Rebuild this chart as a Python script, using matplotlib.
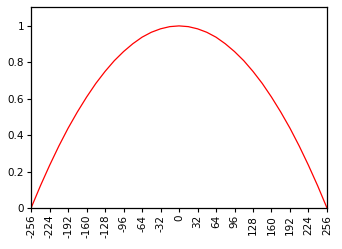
import matplotlib
matplotlib.use("Agg")
import matplotlib.pyplot as plt

# values, every 16 samples
x = [-256, -240, -224, -208, -192, -176, -160, -144, -128, -112, -96, -80, -64, -48, -32, -16,
     0, 16, 32, 48, 64, 80, 96, 112, 128, 144, 160, 176, 192, 208, 224, 240, 256]
y = [0.0, 0.121, 0.234, 0.34, 0.438, 0.527, 0.609, 0.684, 0.75, 0.809, 0.859, 0.902, 0.938, 0.965, 0.984, 0.996,
     1.0, 0.996, 0.984, 0.965, 0.938, 0.902, 0.859, 0.809, 0.75, 0.684, 0.609, 0.527, 0.438, 0.34, 0.234, 0.121, 0.0]
xticks = list(range(-256, 257, 32))
yticks = [0, 0.2, 0.4, 0.6, 0.8, 1]
yticklabels = ["0", "0.2", "0.4", "0.6", "0.8", "1"]

fig = plt.figure(figsize=(3.42, 2.49), dpi=100)
ax = fig.add_axes([0.091, 0.165, 0.865, 0.807])
ax.plot(x, y, color="red", lw=0.9)
ax.set_xlim(-256, 256)
ax.set_ylim(0, 1.104)
ax.set_xticks(xticks)
ax.set_xticklabels([str(v) for v in xticks], rotation=90, fontsize=7.5)
ax.set_yticks(yticks)
ax.set_yticklabels(yticklabels, fontsize=7.5)
ax.tick_params(direction="out", length=3, width=0.8, pad=2)
for s in ax.spines.values():
    s.set_linewidth(0.9)
fig.savefig("out.png", dpi=100)
